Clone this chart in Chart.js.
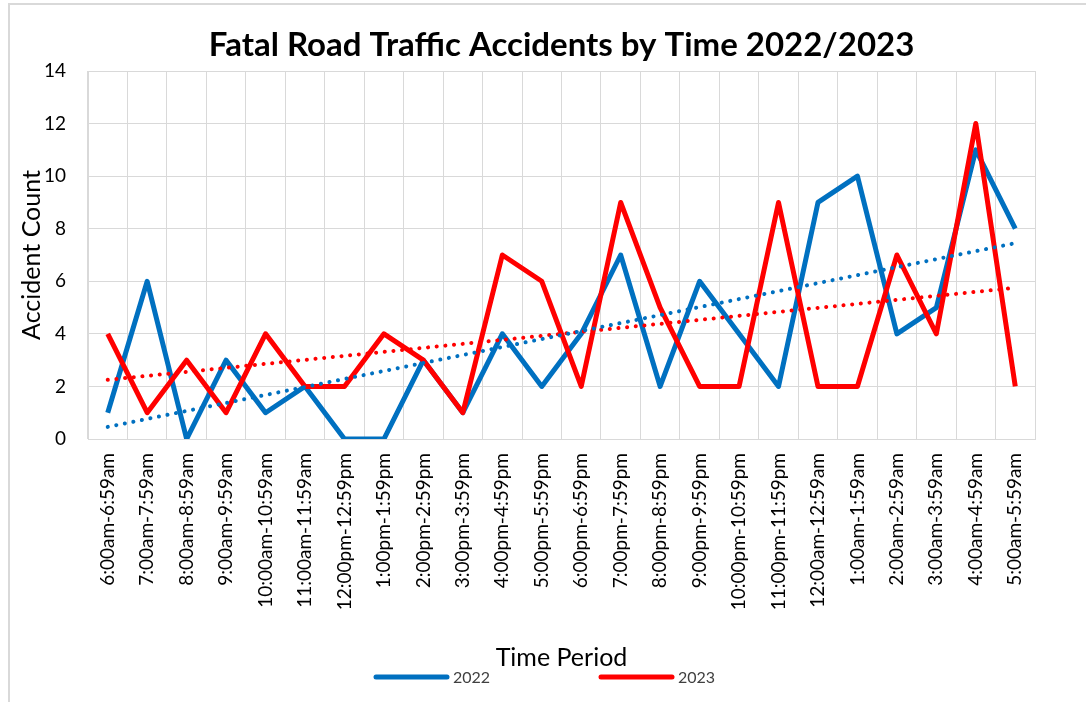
<!DOCTYPE html>
<html>
<head>
<meta charset="utf-8">
<script src="https://cdn.jsdelivr.net/npm/chart.js@4.4.1/dist/chart.umd.min.js"></script>
<style>
    html, body { margin: 0; padding: 0; background: #fff; overflow: hidden; }
    #frame { position: absolute; left: 8px; top: 3px; width: 1100px; height: 720px; border: 2px solid #d9d9d9; }
    #wrap { position: absolute; left: 0; top: 0; width: 1086px; height: 702px; }
</style>
</head>
<body>
<div id="frame"></div>
<div id="wrap"><canvas id="accident-chart"></canvas></div>
<script>
const timePeriods = [
    '6:00am-6:59am', '7:00am-7:59am', '8:00am-8:59am', '9:00am-9:59am',
    '10:00am-10:59am', '11:00am-11:59am', '12:00pm-12:59pm', '1:00pm-1:59pm',
    '2:00pm-2:59pm', '3:00pm-3:59pm', '4:00pm-4:59pm', '5:00pm-5:59pm',
    '6:00pm-6:59pm', '7:00pm-7:59pm', '8:00pm-8:59pm', '9:00pm-9:59pm',
    '10:00pm-10:59pm', '11:00pm-11:59pm', '12:00am-12:59am', '1:00am-1:59am',
    '2:00am-2:59am', '3:00am-3:59am', '4:00am-4:59am', '5:00am-5:59am'
];
const accidents2022 = [1, 6, 0, 3, 1, 2, 0, 0, 3, 1, 4, 2, 4, 7, 2, 6, 4, 2, 9, 10, 4, 5, 11, 8];
const accidents2023 = [4, 1, 3, 1, 4, 2, 2, 4, 3, 1, 7, 6, 2, 9, 5, 2, 2, 9, 2, 2, 7, 4, 12, 2];
// linear trendline ends (first / last period)
const trend2022 = [0.46, 7.45];
const trend2023 = [2.25, 5.75];
const yTicks = { min: 0, max: 14, step: 2 };

const BLUE = '#0070C0';
const RED = '#FF0000';
const FONT = 'Lato, "Open Sans", sans-serif';

function trendPoints(ends) {
    return [
        { x: timePeriods[0], y: ends[0] },
        { x: timePeriods[timePeriods.length - 1], y: ends[1] }
    ];
}

// legend drawn under the axis title, items spread wide like the original
const wideLegend = {
    id: 'wideLegend',
    afterDraw(chart, args, opts) {
        const ctx = chart.ctx;
        const items = chart.data.datasets.filter(d => !d.isTrend);
        ctx.save();
        ctx.font = opts.fontSize + 'px ' + FONT;
        ctx.textBaseline = 'middle';
        items.forEach((d, i) => {
            const x = opts.startX + i * opts.gap;
            ctx.strokeStyle = d.borderColor;
            ctx.lineWidth = 5;
            ctx.lineCap = 'round';
            ctx.beginPath();
            ctx.moveTo(x, opts.y);
            ctx.lineTo(x + opts.lineLength, opts.y);
            ctx.stroke();
            ctx.fillStyle = '#404040';
            ctx.fillText(d.label, x + opts.lineLength + 6, opts.y + 1);
        });
        ctx.restore();
    }
};

const ctx = document.getElementById('accident-chart').getContext('2d');
const accidentChart = new Chart(ctx, {
    type: 'line',
    data: {
        labels: timePeriods,
        datasets: [{
            label: '2022',
            data: accidents2022,
            borderColor: BLUE,
            borderWidth: 5,
            borderJoinStyle: 'round',
            pointRadius: 0,
            order: 2
        }, {
            label: '2023',
            data: accidents2023,
            borderColor: RED,
            borderWidth: 5,
            borderJoinStyle: 'round',
            pointRadius: 0,
            order: 1
        }, {
            label: 'Linear (2022)',
            isTrend: true,
            data: trendPoints(trend2022),
            borderColor: BLUE,
            borderWidth: 4,
            borderDash: [0.1, 8.6],
            borderCapStyle: 'round',
            pointRadius: 0,
            order: 0
        }, {
            label: 'Linear (2023)',
            isTrend: true,
            data: trendPoints(trend2023),
            borderColor: RED,
            borderWidth: 4,
            borderDash: [0.1, 8.6],
            borderCapStyle: 'round',
            pointRadius: 0,
            order: 0
        }]
    },
    options: {
        responsive: true,
        maintainAspectRatio: false,
        animation: false,
        layout: {
            padding: { left: 10, right: 51, top: 0, bottom: 29 }
        },
        plugins: {
            legend: { display: false },
            tooltip: { enabled: false },
            title: {
                display: true,
                text: 'Fatal Road Traffic Accidents by Time 2022/2023',
                color: '#000',
                fullSize: false,
                font: { family: FONT, size: 33, weight: 'bold' },
                padding: { top: 26, bottom: 5.4 }
            },
            wideLegend: { startX: 376, gap: 225, y: 677, lineLength: 71, fontSize: 16 }
        },
        scales: {
            x: {
                offset: true,
                grid: { color: '#d9d9d9', offset: true, drawTicks: false },
                border: { color: '#d9d9d9' },
                ticks: {
                    color: '#000',
                    autoSkip: false,
                    minRotation: 90,
                    maxRotation: 90,
                    padding: 14,
                    font: { family: FONT, size: 19 }
                },
                title: {
                    display: true,
                    text: 'Time Period',
                    color: '#000',
                    font: { family: FONT, size: 25 },
                    padding: { top: 0, bottom: 0 }
                },
                afterFit(scale) { scale.height = 234; }
            },
            y: {
                min: yTicks.min,
                max: yTicks.max,
                grid: { color: '#d9d9d9', drawTicks: false },
                border: { color: '#d9d9d9' },
                ticks: {
                    stepSize: yTicks.step,
                    color: '#000',
                    padding: 22,
                    font: { family: FONT, size: 19 }
                },
                title: {
                    display: true,
                    text: 'Accident Count',
                    color: '#000',
                    font: { family: FONT, size: 25 },
                    padding: { top: 7, bottom: 0 }
                },
                afterFit(scale) { scale.width = 78; }
            }
        }
    },
    plugins: [wideLegend]
});
</script>
</body>
</html>
